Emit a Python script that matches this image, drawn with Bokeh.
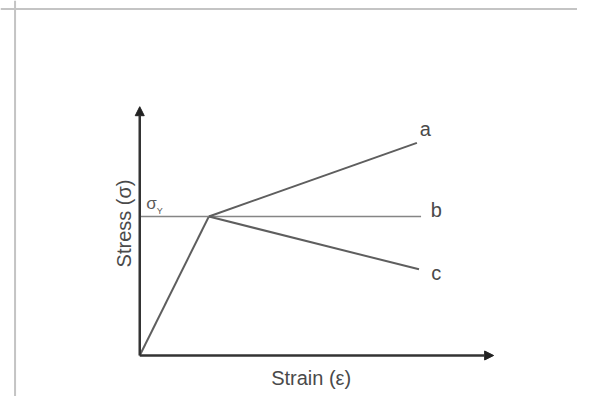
from bokeh.plotting import figure
from bokeh.models import Range1d, Arrow, NormalHead, Span, ColumnDataSource
from bokeh.embed import file_html
from bokeh.resources import INLINE
from bokeh.core.properties import value
import math

# --- data (normalised: yield point = (1, 1)) ---
elastic_strain = [0.0, 1.0]
elastic_stress = [0.0, 1.0]
a_strain = [1.0, 4.01]
a_stress = [1.0, 1.53]
b_strain = [0.0, 4.07]
b_stress = [1.0, 1.0]
c_strain = [1.0, 4.04]
c_stress = [1.0, 0.62]
axis_x_end = 5.12
axis_y_end = 1.79
curve_labels = ["a", "b", "c"]
curve_label_x = [4.13, 4.29, 4.29]
curve_label_y = [1.63, 1.05, 0.59]
x_title = "Strain (ε)"
y_title = "Stress (σ)"

FONT = value("Liberation Sans")

p = figure(width=577, height=396, output_backend="svg", toolbar_location=None,
           x_range=Range1d(-2.0145, 6.3333), y_range=Range1d(-0.295, 2.554),
           min_border=0, min_border_left=0, min_border_right=0,
           min_border_top=0, min_border_bottom=0)
p.xaxis.visible = False
p.yaxis.visible = False
p.grid.visible = False
p.outline_line_color = None
p.background_fill_color = "white"
p.border_fill_color = "white"

# picture frame (left and top edges visible in reference)
p.add_layout(Span(location=-1.804, dimension="height", line_color="#c4c4c4", line_width=2))
p.add_layout(Span(location=2.493, dimension="width", line_color="#c4c4c4", line_width=2))

# axes with arrowheads
p.add_layout(Arrow(end=NormalHead(size=9, fill_color="#222222", line_color="#222222"),
                   x_start=0, y_start=0, x_end=axis_x_end, y_end=0,
                   line_color="#333333", line_width=2.5))
p.add_layout(Arrow(end=NormalHead(size=9, fill_color="#222222", line_color="#222222"),
                   x_start=0, y_start=0, x_end=0, y_end=axis_y_end,
                   line_color="#333333", line_width=2.5))

# curves
p.line(elastic_strain, elastic_stress, line_color="#5e5e5e", line_width=2)
p.line(b_strain, b_stress, line_color="#858585", line_width=1.5)
p.line(a_strain, a_stress, line_color="#5e5e5e", line_width=2)
p.line(c_strain, c_stress, line_color="#5e5e5e", line_width=2)

# curve labels
src = ColumnDataSource(dict(x=curve_label_x, y=curve_label_y, t=curve_labels))
p.text(x="x", y="y", text="t", source=src, text_font=FONT, text_font_size="20px",
       text_color="#4a4a4a", text_align="center", text_baseline="middle")

# sigma_Y label
p.text(x=[0.17], y=[1.09], text=["σ"], text_font=FONT, text_font_size="17px",
       text_color="#5a5a5a", text_align="center", text_baseline="middle")
p.text(x=[0.29], y=[1.04], text=["Y"], text_font=FONT, text_font_size="9px",
       text_color="#5a5a5a", text_align="center", text_baseline="middle")

# axis titles
p.text(x=[2.48], y=[-0.165], text=[x_title], text_font=FONT, text_font_size="20px",
       text_color="#4a4a4a", text_align="center", text_baseline="middle")
p.text(x=[-0.23], y=[0.95], text=[y_title], text_font=FONT, text_font_size="20px",
       text_color="#4a4a4a", text_align="center", text_baseline="middle", angle=math.pi / 2)

open("out.html", "w").write(file_html(p, INLINE))
